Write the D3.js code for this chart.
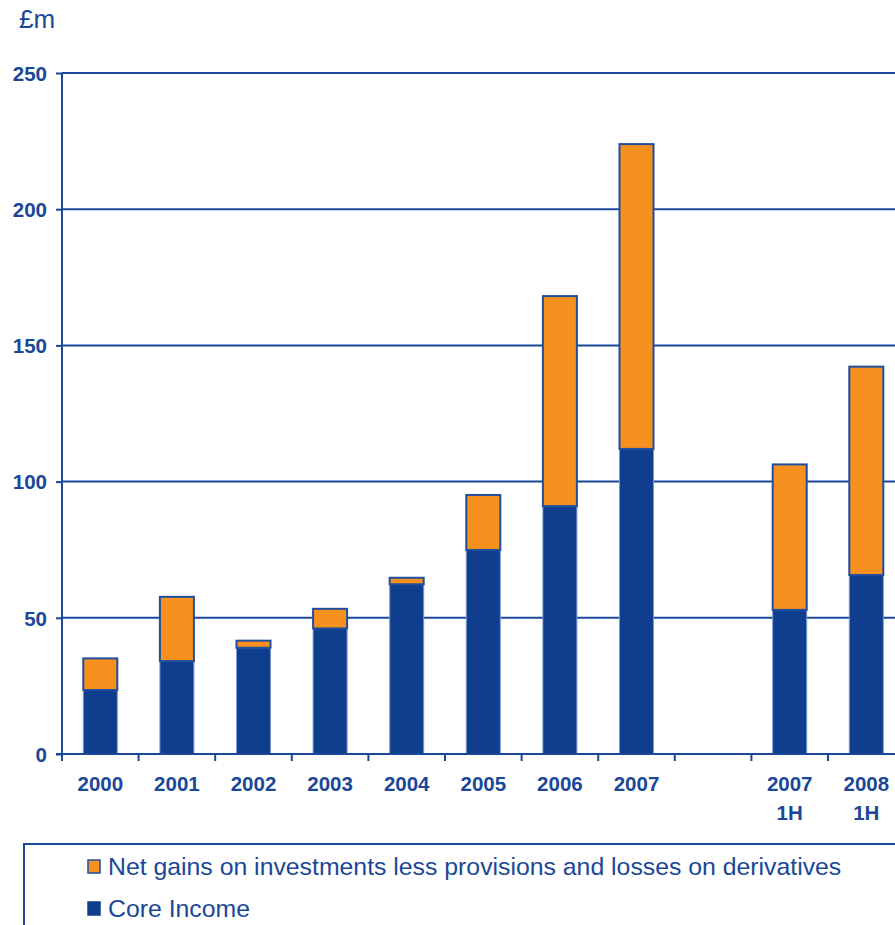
<!DOCTYPE html>
<html>
<head>
<meta charset="utf-8">
<script src="https://cdn.jsdelivr.net/npm/d3@7"></script>
<style>
  html, body { margin: 0; padding: 0; background: #ffffff; overflow: hidden; }
  svg { display: block; }
  text { font-family: "Liberation Sans", Arial, Helvetica, sans-serif; }
</style>
</head>
<body>
<svg id="chart" width="895" height="925"></svg>
<script>
// Income by year (£m); the empty slot separates full years from half years
const categories = ["2000", "2001", "2002", "2003", "2004", "2005", "2006", "2007", "gap", "2007 1H", "2008 1H"];
const categoryLabels = [["2000"], ["2001"], ["2002"], ["2003"], ["2004"], ["2005"], ["2006"], ["2007"], [], ["2007", "1H"], ["2008", "1H"]];
const coreIncome = [23.5, 34.1, 39.0, 46.1, 62.3, 74.9, 91.0, 112.0, null, 52.9, 65.7];
const netGains   = [11.6, 23.6, 2.6, 7.2, 2.4, 20.2, 77.1, 111.9, null, 53.4, 76.5];
const yTicks = [0, 50, 100, 150, 200, 250];
const seriesNames = ["Net gains on investments less provisions and losses on derivatives", "Core Income"];

const NAVY = "#0f3e8f";
const ORANGE = "#f7901e";
const INK = "#1a4797";

const svg = d3.select("#chart");

const plotLeft = 62, plotTop = 73, plotBottom = 754, step = 76.6;
const x = d3.scaleBand()
  .domain(categories)
  .range([plotLeft, plotLeft + step * categories.length])
  .paddingInner(0.556)
  .paddingOuter(0.278);
const y = d3.scaleLinear().domain([0, 250]).range([plotBottom, plotTop]);

const rows = categories.map((c, i) => ({ cat: c, core: coreIncome[i], net: netGains[i] }))
  .filter(d => d.core != null);
const stacked = d3.stack().keys(["core", "net"])(rows);

// horizontal gridlines
svg.append("g")
  .selectAll("line")
  .data(yTicks.filter(t => t > 0))
  .join("line")
  .attr("x1", plotLeft).attr("x2", 895)
  .attr("y1", d => y(d)).attr("y2", d => y(d))
  .attr("stroke", INK).attr("stroke-width", 2);

// stacked bars
const fills = { core: NAVY, net: ORANGE };
const strokes = { core: "#7d98cc", net: "#1f4e9f" };
const strokeW = { core: 1, net: 2 };
svg.append("g")
  .selectAll("g")
  .data(stacked)
  .join("g")
  .attr("fill", s => fills[s.key])
  .attr("stroke", s => strokes[s.key])
  .attr("stroke-width", s => strokeW[s.key])
  .selectAll("rect")
  .data(s => s)
  .join("rect")
  .attr("x", d => x(d.data.cat))
  .attr("width", x.bandwidth())
  .attr("y", d => y(d[1]))
  .attr("height", d => y(d[0]) - y(d[1]));

// y axis
const yAxis = svg.append("g")
  .attr("transform", `translate(${plotLeft},0)`)
  .call(d3.axisLeft(y).tickValues(yTicks).tickSize(6).tickPadding(9));
yAxis.select(".domain").attr("stroke", INK).attr("stroke-width", 2)
  .attr("d", `M0,${plotTop}V${plotBottom + 1}`);
yAxis.selectAll(".tick line").attr("stroke", INK).attr("stroke-width", 2);
yAxis.selectAll(".tick text")
  .attr("fill", INK).attr("font-size", 20.5).attr("font-weight", "bold")
  .attr("dy", "0.36em");

// x axis baseline with boundary ticks between categories
const boundaries = categories.map(c => x(c) - x.step() * x.paddingInner() / 2)
  .concat([x.range()[1]]);
svg.append("line")
  .attr("x1", plotLeft - 6).attr("x2", 895)
  .attr("y1", plotBottom).attr("y2", plotBottom)
  .attr("stroke", INK).attr("stroke-width", 2);
svg.append("g")
  .selectAll("line")
  .data(boundaries)
  .join("line")
  .attr("x1", d => d).attr("x2", d => d)
  .attr("y1", plotBottom).attr("y2", plotBottom + 7)
  .attr("stroke", INK).attr("stroke-width", 2);

// category labels (one or two lines)
const labelGroups = svg.append("g")
  .selectAll("text")
  .data(categories.map((c, i) => ({ cat: c, lines: categoryLabels[i] })))
  .join("text")
  .attr("text-anchor", "middle")
  .attr("fill", INK)
  .attr("font-size", 20.5)
  .attr("font-weight", "bold");
labelGroups.selectAll("tspan")
  .data(d => d.lines.map((l, k) => ({ l, k, cx: x(d.cat) + x.bandwidth() / 2 })))
  .join("tspan")
  .attr("x", d => d.cx)
  .attr("y", d => 791 + d.k * 29)
  .text(d => d.l);

// unit label
svg.append("text")
  .attr("x", 19).attr("y", 28)
  .attr("fill", INK).attr("font-size", 26)
  .text("£m");

// legend frame (open on right and bottom)
svg.append("path")
  .attr("d", "M24,925V844H895")
  .attr("fill", "none")
  .attr("stroke", INK)
  .attr("stroke-width", 2);

const legendItems = [
  { name: seriesNames[0], fill: ORANGE, stroke: "#1f4e9f", yText: 875 },
  { name: seriesNames[1], fill: NAVY, stroke: NAVY, yText: 917 }
];
const lg = svg.append("g").selectAll("g").data(legendItems).join("g");
lg.append("rect")
  .attr("x", 88).attr("y", d => d.yText - 15)
  .attr("width", 12).attr("height", 13)
  .attr("fill", d => d.fill)
  .attr("stroke", d => d.stroke)
  .attr("stroke-width", 1.5);
lg.append("text")
  .attr("x", 108).attr("y", d => d.yText)
  .attr("fill", INK).attr("font-size", 24.8)
  .text(d => d.name);
</script>
</body>
</html>
